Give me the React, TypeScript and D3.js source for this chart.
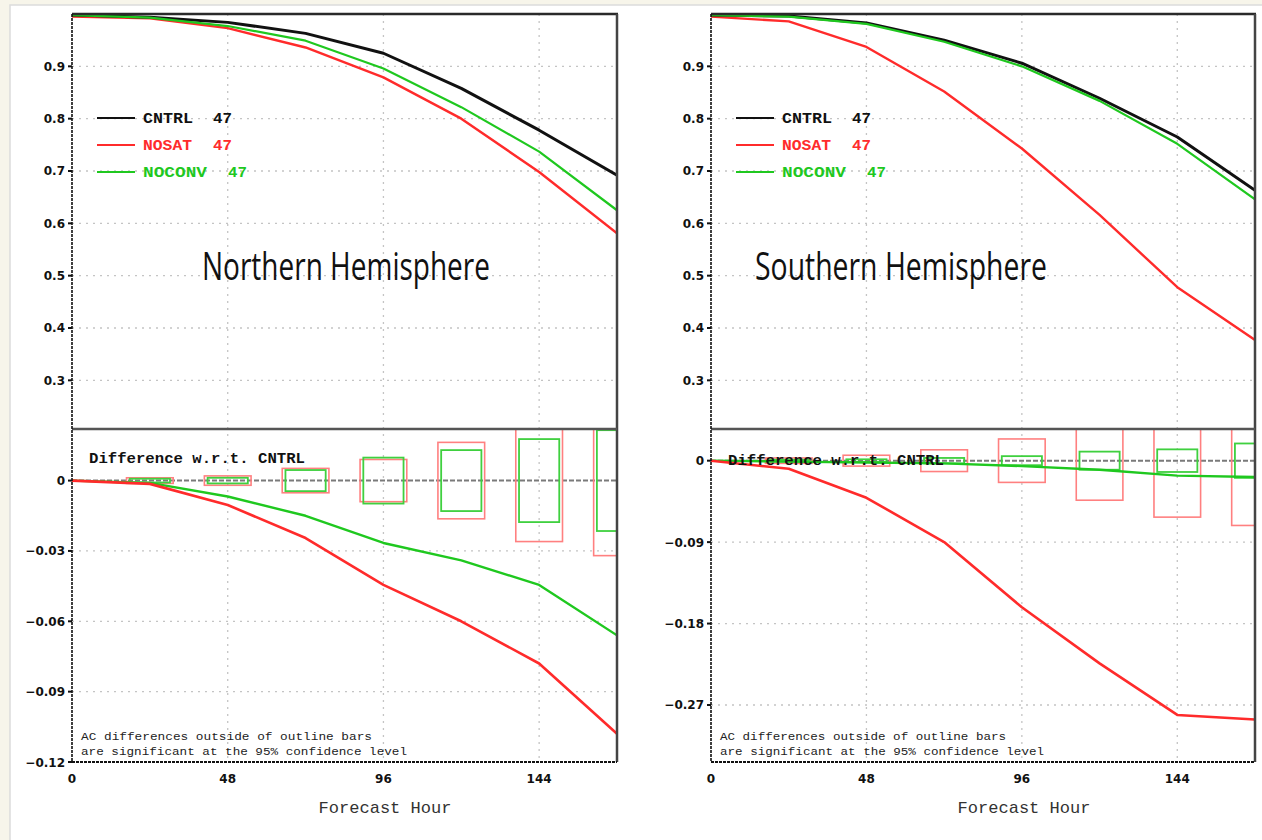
import React, { useEffect, useRef } from "react";
import * as d3 from "d3";

// forecast hours (x)
const hours = [0, 24, 48, 72, 96, 120, 144, 168];

// Northern Hemisphere anomaly correlation
const nhCntrl = [0.998, 0.994, 0.984, 0.963, 0.925, 0.858, 0.778, 0.692];
const nhNosat = [0.995, 0.992, 0.973, 0.936, 0.879, 0.8, 0.698, 0.581];
const nhNoconv = [0.998, 0.993, 0.977, 0.949, 0.896, 0.822, 0.737, 0.625];
// NH differences w.r.t. CNTRL and significance bar half-heights
const nhDiffNosat = [0, -0.0014, -0.0104, -0.0245, -0.0445, -0.06, -0.078, -0.108];
const nhDiffNoconv = [0, -0.001, -0.0068, -0.015, -0.0266, -0.034, -0.0445, -0.066];
const nhSigNosat = [0, 0.0012, 0.002, 0.0052, 0.009, 0.0163, 0.026, 0.032];
const nhSigNoconv = [0, 0.0008, 0.0012, 0.0045, 0.0098, 0.013, 0.0177, 0.0215];

// Southern Hemisphere anomaly correlation
const shCntrl = [0.998, 0.996, 0.983, 0.95, 0.906, 0.839, 0.765, 0.663];
const shNosat = [0.995, 0.986, 0.937, 0.852, 0.743, 0.616, 0.478, 0.377];
const shNoconv = [0.998, 0.995, 0.981, 0.947, 0.9, 0.834, 0.752, 0.646];
const shDiffNosat = [0, -0.009, -0.041, -0.09, -0.162, -0.224, -0.281, -0.286];
const shDiffNoconv = [0, -0.001, -0.002, -0.003, -0.006, -0.01, -0.0165, -0.018];
const shSigNosat = [0, 0.003, 0.006, 0.012, 0.024, 0.0437, 0.0624, 0.0716];
const shSigNoconv = [0, 0.001, 0.0015, 0.003, 0.005, 0.01, 0.0125, 0.019];

// tick labels
const xTicks = [0, 48, 96, 144];
const acTicks = [0.3, 0.4, 0.5, 0.6, 0.7, 0.8, 0.9];
const nhDiffTicks = [0, -0.03, -0.06, -0.09, -0.12];
const shDiffTicks = [0, -0.09, -0.18, -0.27];

const legendNames = ["CNTRL", "NOSAT", "NOCONV"];
const legendCounts = [47, 47, 47];

const BLACK = "#111";
const RED = "#ff2b2b";
const GREEN = "#1fc81f";

const TOP = 14;
const SEP = 429;
const BOTTOM = 762;

const mono = "'Liberation Mono', 'DejaVu Sans Mono', monospace";
const tickFont = "'DejaVu Sans', sans-serif";

const drawPanel = (svg, cfg) => {
  const { id, x0, x1 } = cfg;
  const x = d3.scaleLinear().domain([0, 168]).range([x0, x1]);
  const yTop = d3.scaleLinear().domain([0.207, 1.0]).range([SEP, TOP]);
  const yBot = d3.scaleLinear().domain(cfg.diffDomain).range([BOTTOM, SEP]);

  const g = svg.append("g");
  const defs = g.append("defs");
  defs.append("clipPath").attr("id", `up-${id}`)
    .append("rect").attr("x", x0).attr("y", TOP).attr("width", x1 - x0).attr("height", SEP - TOP);
  defs.append("clipPath").attr("id", `lo-${id}`)
    .append("rect").attr("x", x0).attr("y", SEP).attr("width", x1 - x0).attr("height", BOTTOM - SEP);

  // dotted grid
  const grid = g.append("g").attr("stroke", "#c4c4c4").attr("stroke-width", 1.3)
    .attr("stroke-dasharray", "2,5").attr("fill", "none");
  xTicks.filter((t) => t > 0).forEach((t) => {
    grid.append("line").attr("x1", x(t)).attr("x2", x(t)).attr("y1", TOP).attr("y2", BOTTOM);
  });
  acTicks.forEach((t) => {
    grid.append("line").attr("x1", x0).attr("x2", x1).attr("y1", yTop(t)).attr("y2", yTop(t));
  });
  cfg.diffTicks.slice(1).forEach((t) => {
    if (yBot(t) < BOTTOM - 2)
      grid.append("line").attr("x1", x0).attr("x2", x1).attr("y1", yBot(t)).attr("y2", yBot(t));
  });

  // title
  g.append("text").attr("x", cfg.titleX).attr("y", 280)
    .attr("font-family", "'Open Sans', 'Noto Sans', sans-serif").attr("font-size", 39)
    .attr("textLength", cfg.titleW).attr("lengthAdjust", "spacingAndGlyphs")
    .attr("fill", "#111").text(cfg.title);

  // zero line
  g.append("line").attr("x1", x0).attr("x2", x1).attr("y1", yBot(0)).attr("y2", yBot(0))
    .attr("stroke", "#7a7a7a").attr("stroke-width", 2).attr("stroke-dasharray", "5,2");

  // significance outline bars
  const bars = g.append("g").attr("clip-path", `url(#lo-${id})`).attr("fill", "none");
  const barSets = [
    { sig: cfg.sigNosat, half: 7.2, color: "#ff8080", w: 1.6 },
    { sig: cfg.sigNoconv, half: 6.2, color: "#3fd03f", w: 1.8 },
  ];
  barSets.forEach((b) => {
    bars.selectAll(null)
      .data(hours.map((h, i) => ({ h, s: b.sig[i] })).filter((d) => d.s > 0))
      .enter()
      .append("rect")
      .attr("x", (d) => x(d.h - b.half))
      .attr("width", (d) => x(d.h + b.half) - x(d.h - b.half))
      .attr("y", (d) => yBot(d.s))
      .attr("height", (d) => yBot(-d.s) - yBot(d.s))
      .attr("stroke", b.color)
      .attr("stroke-width", b.w);
  });

  // curves
  const lineTop = d3.line().x((d) => x(d[0])).y((d) => yTop(d[1]));
  const lineBot = d3.line().x((d) => x(d[0])).y((d) => yBot(d[1]));
  const up = g.append("g").attr("clip-path", `url(#up-${id})`).attr("fill", "none");
  [
    { v: cfg.nosat, c: RED, w: 2.4 },
    { v: cfg.cntrl, c: BLACK, w: 3 },
    { v: cfg.noconv, c: GREEN, w: 2.2 },
  ].forEach((s) => {
    up.append("path").attr("d", lineTop(hours.map((h, i) => [h, s.v[i]])))
      .attr("stroke", s.c).attr("stroke-width", s.w).attr("stroke-linejoin", "round");
  });
  const lo = g.append("g").attr("clip-path", `url(#lo-${id})`).attr("fill", "none");
  [
    { v: cfg.diffNoconv, c: GREEN, w: 2.4 },
    { v: cfg.diffNosat, c: RED, w: 2.6 },
  ].forEach((s) => {
    lo.append("path").attr("d", lineBot(hours.map((h, i) => [h, s.v[i]])))
      .attr("stroke", s.c).attr("stroke-width", s.w).attr("stroke-linejoin", "round");
  });

  // frame
  g.append("line").attr("x1", x0).attr("x2", x1 + 1).attr("y1", TOP).attr("y2", TOP)
    .attr("stroke", "#2a2a2a").attr("stroke-width", 2.5);
  g.append("line").attr("x1", x1).attr("x2", x1).attr("y1", TOP).attr("y2", BOTTOM)
    .attr("stroke", "#444").attr("stroke-width", 2.5);
  g.append("line").attr("x1", x0).attr("x2", x1).attr("y1", SEP).attr("y2", SEP)
    .attr("stroke", "#555").attr("stroke-width", 2.5);
  g.append("line").attr("x1", x0).attr("x2", x0).attr("y1", TOP).attr("y2", BOTTOM)
    .attr("stroke", "#111").attr("stroke-width", 1.6).attr("stroke-dasharray", "3,1");
  g.append("line").attr("x1", x0).attr("x2", x1).attr("y1", BOTTOM).attr("y2", BOTTOM)
    .attr("stroke", "#111").attr("stroke-width", 2.2).attr("stroke-dasharray", "3,1");

  // y ticks
  const yAx = g.append("g").attr("font-family", tickFont).attr("font-weight", "bold")
    .attr("font-size", 12).attr("fill", "#111").attr("text-anchor", "end");
  acTicks.forEach((t) => {
    yAx.append("line").attr("x1", x0 - 4).attr("x2", x0).attr("y1", yTop(t)).attr("y2", yTop(t))
      .attr("stroke", "#111").attr("stroke-width", 2);
    yAx.append("text").attr("x", x0 - 7).attr("y", yTop(t) + 4.5).text(t.toFixed(1));
  });
  cfg.diffTicks.forEach((t) => {
    yAx.append("line").attr("x1", x0 - 4).attr("x2", x0).attr("y1", yBot(t)).attr("y2", yBot(t))
      .attr("stroke", "#111").attr("stroke-width", 2);
    yAx.append("text").attr("x", x0 - 7).attr("y", yBot(t) + 4.5)
      .text(t === 0 ? "0" : `\u2212${Math.abs(t).toFixed(2)}`);
  });

  // x ticks
  const xAx = g.append("g").attr("font-family", tickFont).attr("font-weight", "bold")
    .attr("font-size", 12).attr("fill", "#111").attr("text-anchor", "middle");
  xTicks.forEach((t) => {
    xAx.append("text").attr("x", x(t)).attr("y", 783).text(String(t));
  });
  g.append("text").attr("x", x0 + 313).attr("y", 813).attr("text-anchor", "middle")
    .attr("font-family", mono).attr("font-size", 17).attr("fill", "#333")
    .attr("textLength", 133).attr("lengthAdjust", "spacingAndGlyphs").text("Forecast Hour");

  // legend
  const colors = [BLACK, RED, GREEN];
  const nameW = [50, 49, 64];
  const countX = [141, 141, 156];
  legendNames.forEach((name, i) => {
    const y = 118 + i * 27;
    g.append("line").attr("x1", x0 + 25).attr("x2", x0 + 63).attr("y1", y).attr("y2", y)
      .attr("stroke", colors[i]).attr("stroke-width", 2.2);
    g.append("text").attr("x", x0 + 71).attr("y", y + 5).attr("font-family", mono)
      .attr("font-weight", "bold").attr("font-size", 15).attr("fill", colors[i])
      .attr("textLength", nameW[i]).attr("lengthAdjust", "spacingAndGlyphs").text(name);
    g.append("text").attr("x", x0 + countX[i]).attr("y", y + 5).attr("font-family", mono)
      .attr("font-weight", "bold").attr("font-size", 15).attr("fill", colors[i])
      .attr("textLength", 19).attr("lengthAdjust", "spacingAndGlyphs").text(String(legendCounts[i]));
  });

  // annotations
  g.append("text").attr("x", x0 + 17).attr("y", cfg.diffLabelY).attr("font-family", mono)
    .attr("font-weight", "bold").attr("font-size", 15).attr("fill", "#111")
    .attr("textLength", 216).attr("lengthAdjust", "spacingAndGlyphs").text("Difference w.r.t. CNTRL");
  g.append("text").attr("x", x0 + 9).attr("y", 740).attr("font-family", mono)
    .attr("font-size", 11.5).attr("fill", "#222").attr("textLength", cfg.noteW[0])
    .attr("lengthAdjust", "spacingAndGlyphs").text("AC differences outside of outline bars");
  g.append("text").attr("x", x0 + 9).attr("y", 755).attr("font-family", mono)
    .attr("font-size", 11.5).attr("fill", "#222").attr("textLength", cfg.noteW[1])
    .attr("lengthAdjust", "spacingAndGlyphs").text("are significant at the 95% confidence level");
};

const App = () => {
  const svgRef = useRef(null);

  useEffect(() => {
    const svg = d3.select(svgRef.current);
    svg.selectAll("*").remove();

    svg.append("rect").attr("width", 1262).attr("height", 840).attr("fill", "#f7f5ea");
    svg.append("rect").attr("x", 10).attr("y", 5).attr("width", 1262).attr("height", 840)
      .attr("fill", "#fff").attr("stroke", "#dcdcdc").attr("stroke-width", 1.5);

    drawPanel(svg, {
      id: "nh",
      x0: 72,
      x1: 617,
      title: "Northern Hemisphere",
      titleX: 202,
      titleW: 288,
      cntrl: nhCntrl,
      nosat: nhNosat,
      noconv: nhNoconv,
      diffNosat: nhDiffNosat,
      diffNoconv: nhDiffNoconv,
      sigNosat: nhSigNosat,
      sigNoconv: nhSigNoconv,
      diffDomain: [-0.12, 0.022],
      diffTicks: nhDiffTicks,
      diffLabelY: 463,
      noteW: [291, 326],
    });
    drawPanel(svg, {
      id: "sh",
      x0: 711,
      x1: 1255,
      title: "Southern Hemisphere",
      titleX: 755,
      titleW: 292,
      cntrl: shCntrl,
      nosat: shNosat,
      noconv: shNoconv,
      diffNosat: shDiffNosat,
      diffNoconv: shDiffNoconv,
      sigNosat: shSigNosat,
      sigNoconv: shSigNoconv,
      diffDomain: [-0.333, 0.035],
      diffTicks: shDiffTicks,
      diffLabelY: 465,
      noteW: [286, 324],
    });
  }, []);

  return (
    <svg
      ref={svgRef}
      width={1262}
      height={840}
      style={{ position: "absolute", left: 0, top: 0, display: "block" }}
    />
  );
};

export default App;
